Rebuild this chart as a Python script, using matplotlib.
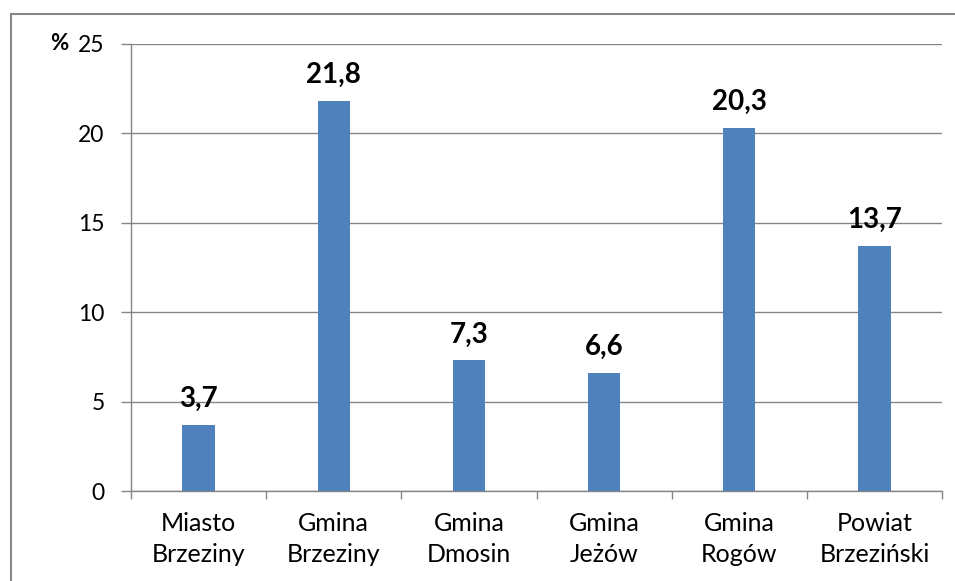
import matplotlib.pyplot as plt
import matplotlib.patches as patches
import numpy as np

# data
categories = ['Miasto\nBrzeziny', 'Gmina\nBrzeziny', 'Gmina\nDmosin', 'Gmina\nJeżów', 'Gmina\nRogów', 'Powiat\nBrzeziński']
values = [3.7, 21.8, 7.3, 6.6, 20.3, 13.7]
value_labels = ['3,7', '21,8', '7,3', '6,6', '20,3', '13,7']
y_ticks = [0, 5, 10, 15, 20, 25]

plt.rcParams['font.family'] = ['Lato', 'DejaVu Sans']

fig = plt.figure(figsize=(9.55, 5.81), dpi=100)
ax = fig.add_axes([131 / 955, 1 - 491 / 581, (942 - 131) / 955, (491 - 44) / 581])

# outer chart border (Excel style)
fig.patches.append(patches.Rectangle((11 / 955, -0.05), 1.2, 1 - 14 / 581 + 0.05,
                                     transform=fig.transFigure, fill=False,
                                     edgecolor='#868686', linewidth=1.5))

x = np.arange(len(categories))
ax.bar(x, values, width=0.24, color='#4F81BD', zorder=3)

for xi, v, lab in zip(x, values, value_labels):
    ax.annotate(lab, (xi, v), xytext=(0, 13), textcoords='offset points',
                ha='center', va='baseline', fontsize=20, fontweight='bold')

ax.set_xlim(-0.5, len(categories) - 0.5)
ax.set_ylim(0, 25)
ax.set_yticks(y_ticks)
ax.yaxis.grid(True, color='#868686', linewidth=1, zorder=0)
ax.set_xticks(x)
ax.set_xticklabels(categories, fontsize=18, linespacing=1.45)
ax.set_xticks(np.arange(-0.5, len(categories)), minor=True)
ax.tick_params(axis='x', which='major', length=0, pad=15)
ax.tick_params(axis='x', which='minor', length=6, color='#868686', width=1)
ax.tick_params(axis='y', labelsize=16.5, length=7, color='#868686', width=1, pad=12)

for s in ['top', 'right']:
    ax.spines[s].set_visible(False)
for s in ['left', 'bottom']:
    ax.spines[s].set_color('#868686')
    ax.spines[s].set_linewidth(1)

fig.text(50 / 955, 1 - 44 / 581, '%', fontsize=16, fontweight='bold', ha='left', va='center')

fig.savefig('out.png', dpi=100)
